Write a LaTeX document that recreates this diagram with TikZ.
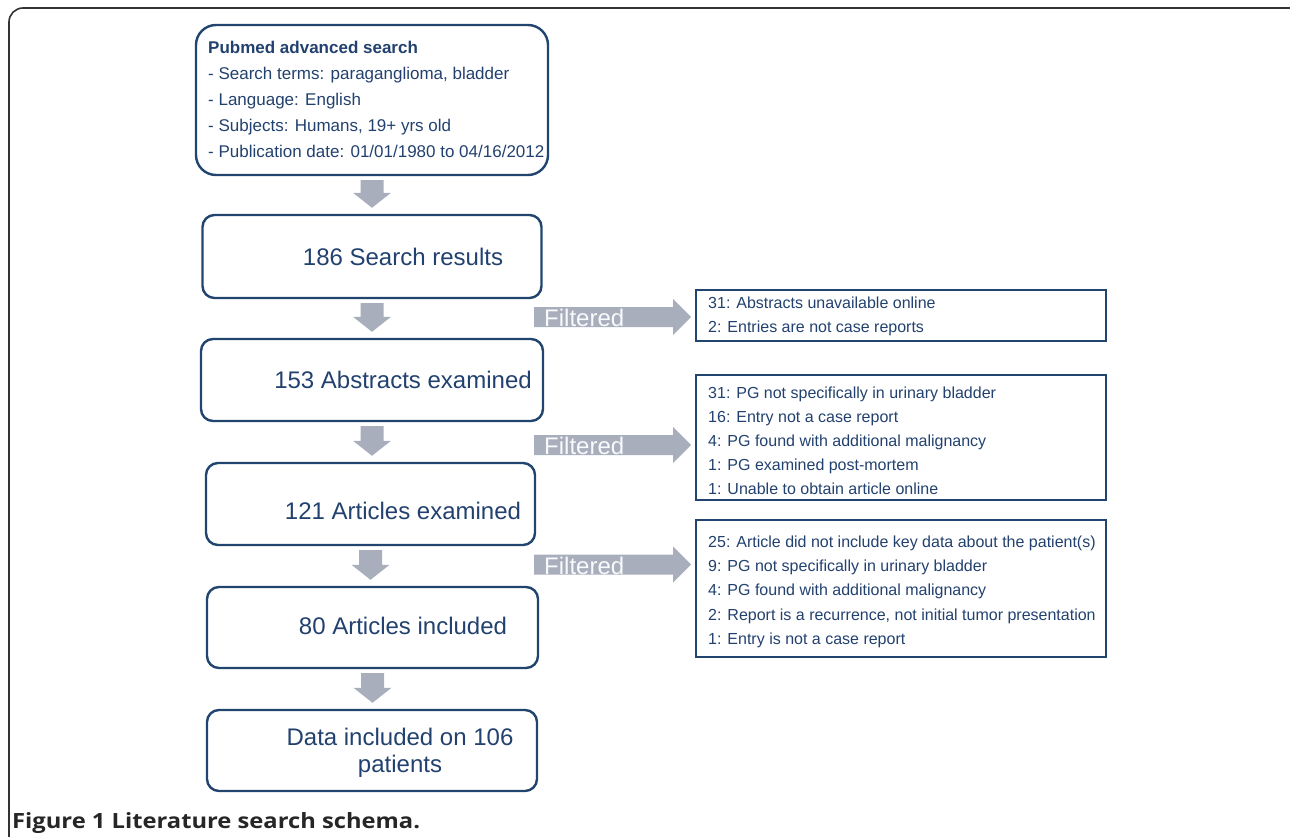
\documentclass[tikz,border=0pt]{standalone}
\usepackage{fontspec}
\setmainfont{Liberation Sans}
\newfontfamily\capfont{Open Sans}
\usetikzlibrary{calc}
\definecolor{boxblue}{HTML}{21456F}
\definecolor{txtblue}{HTML}{22416E}
\definecolor{arrgray}{HTML}{A9AEBD}
\definecolor{framecol}{HTML}{333333}
\tikzset{
  mainbox/.style={draw=boxblue, line width=2.4pt, rounded corners=12pt, inner sep=0pt},
  sidebox/.style={draw=boxblue, line width=2pt, inner sep=0pt},
  bigtxt/.style={text=txtblue, font=\fontsize{24}{27}\selectfont, inner sep=0pt, align=center},
  smalltxt/.style={text=txtblue, font=\fontsize{17}{26}\selectfont, inner sep=0pt, anchor=west, text height=12.2pt, text depth=0pt},
  sidetxt/.style={text=txtblue, font=\fontsize{16}{24}\selectfont, inner sep=0pt, anchor=west, text height=11.5pt, text depth=0pt},
  blockarrow/.style={fill=arrgray, draw=none},
  filttxt/.style={text=white!92!arrgray, font=\fontsize{24}{27}\selectfont, inner sep=0pt, anchor=west}
}
% down block arrow from box #1 to box #2
\newcommand\dnarrow[2]{%
  \fill[blockarrow] let \p1=($(#1.south)+(0,4)$), \p2=($(#2.north)+(0,-6)$) in
    (\x1-11.5pt,\y1) -- (\x1+11.5pt,\y1) -- (\x1+11.5pt,\y2+15pt) -- (\x1+19pt,\y2+15pt)
    -- (\x1,\y2) -- (\x1-19pt,\y2+15pt) -- (\x1-11.5pt,\y2+15pt) -- cycle;}
% right block arrow from coordinate #1 to side box #2
\newcommand\rtarrow[2]{%
  \fill[blockarrow] let \p1=(#1), \p2=($(#1 -| #2.west)+(-4,0)$) in
    (\x1,\y1+10pt) -- (\x2-18pt,\y1+10pt) -- (\x2-18pt,\y1+18pt) -- (\x2,\y1)
    -- (\x2-18pt,\y1-18pt) -- (\x2-18pt,\y1-10pt) -- (\x1,\y1-10pt) -- cycle;}
\begin{document}
\begin{tikzpicture}[x=1pt,y=-1pt]
\useasboundingbox (0,0) rectangle (1290,837);
\begin{scope}
\clip (0,0) rectangle (1290,837);
\draw[framecol, line width=1.6pt, rounded corners=14pt] (9,8) rectangle (1320,870);
\end{scope}

% main boxes
\node[mainbox, rounded corners=20pt, minimum width=352pt, minimum height=150pt] (b1) at (372,100) {};
\node[mainbox, minimum width=339pt, minimum height=83pt] (b2) at (372,256.5) {};
\node[mainbox, minimum width=342pt, minimum height=82pt] (b3) at (372,380) {};
\node[mainbox, minimum width=329pt, minimum height=82pt] (b4) at (370.5,504) {};
\node[mainbox, minimum width=331pt, minimum height=81pt] (b5) at (372.5,627.5) {};
\node[mainbox, minimum width=330pt, minimum height=81pt] (b6) at (372,750.5) {};

% texts of main boxes
\node[smalltxt, font=\fontsize{17}{26}\selectfont\bfseries] (t1a) at (208,47) {Pubmed advanced search};
\node[smalltxt] (t1b) at (208,73.5) {- Search terms: paraganglioma, bladder};
\node[smalltxt] (t1c) at (208,99) {- Language: English};
\node[smalltxt] (t1d) at (208,125) {- Subjects: Humans, 19+ yrs old};
\node[smalltxt] (t1e) at (208,151) {- Publication date: 01/01/1980 to 04/16/2012};
\node[bigtxt] (t2) at (403,257) {186 Search results};
\node[bigtxt] (t3) at (403,380) {153 Abstracts examined};
\node[bigtxt] (t4) at (403,511) {121 Articles examined};
\node[bigtxt] (t5) at (403,626) {80 Articles included};
\node[bigtxt] (t6) at (400,752.5) {Data included on 106\\patients};

% down arrows
\dnarrow{b1}{b2}
\dnarrow{b2}{b3}
\dnarrow{b3}{b4}
\dnarrow{b4}{b5}
\dnarrow{b5}{b6}

% side boxes
\node[sidebox, minimum width=410pt, minimum height=51pt] (s1) at (901,315.5) {};
\node[sidebox, minimum width=410pt, minimum height=125pt] (s2) at (901,437.5) {};
\node[sidebox, minimum width=410pt, minimum height=137pt] (s3) at (901,588.5) {};

\node[sidetxt] (s1a) at (708,303) {31: Abstracts unavailable online};
\node[sidetxt] (s1b) at (708,327) {2: Entries are not case reports};

\node[sidetxt] (s2a) at (708,393) {31: PG not specifically in urinary bladder};
\node[sidetxt] (s2b) at (708,417) {16: Entry not a case report};
\node[sidetxt] (s2c) at (708,441) {4: PG found with additional malignancy};
\node[sidetxt] (s2d) at (708,465) {1: PG examined post-mortem};
\node[sidetxt] (s2e) at (708,489) {1: Unable to obtain article online};

\node[sidetxt] (s3a) at (708,542) {25: Article did not include key data about the patient(s)};
\node[sidetxt] (s3b) at (708,566) {9: PG not specifically in urinary bladder};
\node[sidetxt] (s3c) at (708,590) {4: PG found with additional malignancy};
\node[sidetxt] (s3d) at (708,615) {2: Report is a recurrence, not initial tumor presentation};
\node[sidetxt] (s3e) at (708,639) {1: Entry is not a case report};

% filtered arrows
\coordinate (f1) at (534,317);
\coordinate (f2) at (534,445);
\coordinate (f3) at (534,564.5);
\rtarrow{f1}{s1}
\rtarrow{f2}{s2}
\rtarrow{f3}{s3}
\node[filttxt] (ft1) at (544,318) {Filtered};
\node[filttxt] (ft2) at (544,446) {Filtered};
\node[filttxt] (ft3) at (544,565.5) {Filtered};

% caption
\node[anchor=west, inner sep=0pt, font=\capfont\bfseries\fontsize{21}{24}\selectfont, text=black!85] (cap) at (12,823) {\scalebox{1.13}[1]{Figure 1 Literature search schema.}};
\end{tikzpicture}
\end{document}
